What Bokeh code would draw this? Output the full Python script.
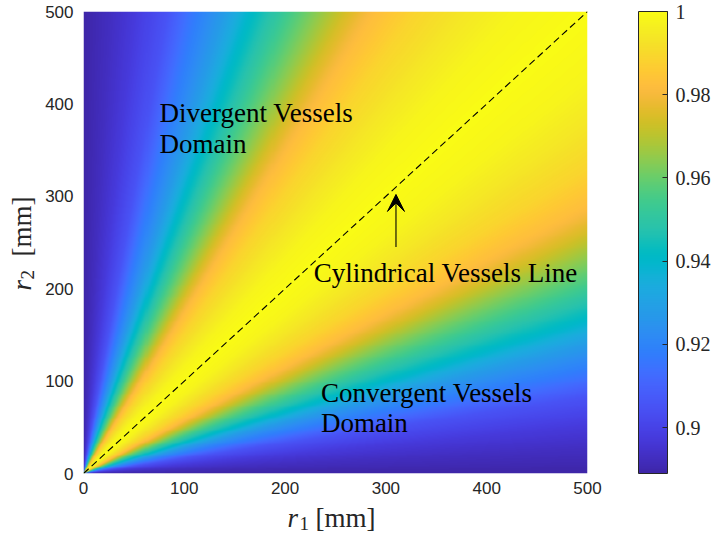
import numpy as np
from bokeh.plotting import figure
from bokeh.layouts import column, row
from bokeh.models import (LinearColorMapper, ColorBar, FixedTicker, NumeralTickFormatter,
                          Label, Arrow, VeeHead, Range1d)
from bokeh.embed import file_html
from bokeh.resources import INLINE

# ---- data -------------------------------------------------------------
r_max = 500                      # mm, extent of both radii
x_ticks = [0, 100, 200, 300, 400, 500]
y_ticks = [0, 100, 200, 300, 400, 500]

# efficiency level as a function of the radius ratio min(r1,r2)/max(r1,r2)
ratio_pts = [0.0, 0.05, 0.10, 0.165, 0.21, 0.28, 0.33, 0.41, 0.475, 0.52, 0.575, 0.66, 0.76, 0.86, 1.0]
level_pts = [0.889, 0.8925, 0.897, 0.905, 0.915, 0.928, 0.940, 0.955, 0.966, 0.974, 0.982, 0.989, 0.994, 0.998, 1.0]

cbar_low, cbar_high = 0.889, 1.0
cbar_ticks = [0.9, 0.92, 0.94, 0.96, 0.98, 1.0]

# cylindrical line r2 = r1 and the arrow pointing at it
diag_r = [0, 500]
arrow_x = 310
arrow_y0, arrow_y1 = 245, 302

# ---- parula colour map ------------------------------------------------
PARULA = [
    (0.2422, 0.1504, 0.6603), (0.2504, 0.1650, 0.7076), (0.2578, 0.1818, 0.7511), (0.2647, 0.1978, 0.7952),
    (0.2706, 0.2147, 0.8364), (0.2751, 0.2342, 0.8710), (0.2783, 0.2559, 0.8991), (0.2803, 0.2782, 0.9221),
    (0.2813, 0.3006, 0.9414), (0.2810, 0.3228, 0.9579), (0.2795, 0.3447, 0.9717), (0.2760, 0.3667, 0.9829),
    (0.2699, 0.3892, 0.9906), (0.2602, 0.4123, 0.9952), (0.2440, 0.4358, 0.9988), (0.2206, 0.4603, 0.9973),
    (0.1963, 0.4847, 0.9892), (0.1834, 0.5074, 0.9798), (0.1786, 0.5289, 0.9682), (0.1764, 0.5499, 0.9520),
    (0.1687, 0.5703, 0.9359), (0.1540, 0.5902, 0.9218), (0.1460, 0.6091, 0.9079), (0.1380, 0.6276, 0.8973),
    (0.1248, 0.6459, 0.8883), (0.1113, 0.6635, 0.8763), (0.0952, 0.6798, 0.8598), (0.0689, 0.6948, 0.8394),
    (0.0297, 0.7082, 0.8163), (0.0036, 0.7203, 0.7917), (0.0067, 0.7312, 0.7660), (0.0433, 0.7411, 0.7394),
    (0.0964, 0.7500, 0.7120), (0.1408, 0.7584, 0.6842), (0.1717, 0.7670, 0.6554), (0.1938, 0.7758, 0.6251),
    (0.2161, 0.7843, 0.5923), (0.2470, 0.7918, 0.5567), (0.2906, 0.7973, 0.5188), (0.3406, 0.8008, 0.4789),
    (0.3909, 0.8029, 0.4354), (0.4456, 0.8024, 0.3909), (0.5044, 0.7993, 0.3480), (0.5616, 0.7942, 0.3045),
    (0.6174, 0.7876, 0.2612), (0.6720, 0.7793, 0.2227), (0.7242, 0.7698, 0.1910), (0.7738, 0.7598, 0.1646),
    (0.8203, 0.7498, 0.1535), (0.8634, 0.7406, 0.1596), (0.9035, 0.7330, 0.1774), (0.9393, 0.7288, 0.2100),
    (0.9728, 0.7298, 0.2394), (0.9956, 0.7434, 0.2371), (0.9970, 0.7659, 0.2199), (0.9952, 0.7893, 0.2028),
    (0.9892, 0.8136, 0.1885), (0.9786, 0.8386, 0.1766), (0.9676, 0.8639, 0.1643), (0.9610, 0.8890, 0.1537),
    (0.9597, 0.9135, 0.1423), (0.9628, 0.9373, 0.1265), (0.9691, 0.9606, 0.1064), (0.9769, 0.9839, 0.0805),
]


def smooth_palette(anchors, n=256):
    a = np.array(anchors)
    s = np.linspace(0, 1, len(a))
    t = np.linspace(0, 1, n)
    rgb = np.stack([np.interp(t, s, a[:, k]) for k in range(3)], axis=1)
    return ["#%02x%02x%02x" % tuple(int(round(c * 255)) for c in rgb_row) for rgb_row in rgb]


palette = smooth_palette(PARULA)
mapper = LinearColorMapper(palette=palette, low=cbar_low, high=cbar_high)

# ---- field on the (r1, r2) grid --------------------------------------
n = 500
centres = (np.arange(n) + 0.5) * r_max / n
R1, R2 = np.meshgrid(centres, centres)
ratio = np.minimum(R1, R2) / np.maximum(R1, R2)
field = np.interp(ratio, ratio_pts, level_pts).astype(np.float32)

serif = "Liberation Serif"
ink = "#262626"

# ---- main plot -------------------------------------------------------
p = figure(width=671, height=500, x_range=Range1d(0, r_max), y_range=Range1d(0, r_max),
           output_backend="svg", toolbar_location=None,
           min_border_left=41, min_border_right=125, min_border_top=11, min_border_bottom=27)
p.outline_line_color = None
p.grid.visible = False

p.image(image=[field], x=0, y=0, dw=r_max, dh=r_max, color_mapper=mapper)

p.line(diag_r, diag_r, line_color="black", line_width=1.1, line_dash="7 4")

p.add_layout(Arrow(end=VeeHead(size=17, fill_color="black", line_color="black", line_width=1),
                   x_start=arrow_x, y_start=arrow_y0, x_end=arrow_x, y_end=arrow_y1,
                   line_color="black", line_width=1.1))

for txt, x, y in [("Divergent Vessels", 75.5, 390.5), ("Domain", 75.5, 357.0),
                  ("Cylindrical Vessels Line", 228.5, 217.5),
                  ("Convergent Vessels", 235.5, 86.9), ("Domain", 235.5, 54.3)]:
    p.add_layout(Label(x=x, y=y, text=txt, text_font=serif, text_font_size="27px",
                       text_color="black", text_baseline="alphabetic", text_align="left"))

# axes: tick labels only
for ax, ticks in ((p.xaxis[0], x_ticks), (p.yaxis[0], y_ticks)):
    ax.ticker = FixedTicker(ticks=ticks)
    ax.axis_line_color = None
    ax.major_tick_line_color = None
    ax.minor_tick_line_color = None
    ax.major_tick_in = 0
    ax.major_tick_out = 0
    ax.major_label_text_font = "Liberation Sans"
    ax.major_label_text_font_size = "17px"
    ax.major_label_text_color = ink
p.xaxis.major_label_standoff = 8
p.yaxis.major_label_standoff = 10

cb = ColorBar(color_mapper=mapper, width=29, height=462, location=(51, 0), padding=0, margin=0,
              ticker=FixedTicker(ticks=cbar_ticks), formatter=NumeralTickFormatter(format="0.[00]"),
              major_label_text_font=serif, major_label_text_font_size="20px",
              major_label_text_color=ink, label_standoff=8,
              major_tick_in=5, major_tick_out=0, major_tick_line_color=ink,
              minor_tick_line_color=None, bar_line_color=ink, bar_line_width=1,
              border_line_color=None, background_fill_color=None)
p.add_layout(cb, "right")


# ---- axis titles: italic symbol, subscript index, upright unit ---------
def title_strip(w, h):
    f = figure(width=w, height=h, x_range=Range1d(0, 1), y_range=Range1d(0, 1),
               output_backend="svg", toolbar_location=None, min_border=0,
               x_axis_location=None, y_axis_location=None)
    f.outline_line_color = None
    f.grid.visible = False
    return f


title_size, sub_size = "27px", "19px"

left = title_strip(42, 500)
for txt, sx, sy, size, style in [("r", 21, 183, title_size, "italic"),
                                 ("2", 27, 194, sub_size, "normal"),
                                 ("[mm]", 21, 217, title_size, "normal")]:
    left.add_layout(Label(x=sx, y=sy, x_units="screen", y_units="screen", text=txt, angle=np.pi / 2,
                          text_font=serif, text_font_style=style, text_font_size=size,
                          text_color=ink, text_baseline="alphabetic"))

bottom = title_strip(713, 39)
for txt, sx, sy, size, style in [("r", 287, 22, title_size, "italic"),
                                 ("1", 299, 16, sub_size, "normal"),
                                 ("[mm]", 315, 22, title_size, "normal")]:
    bottom.add_layout(Label(x=sx, y=sy, x_units="screen", y_units="screen", text=txt,
                            text_font=serif, text_font_style=style, text_font_size=size,
                            text_color=ink, text_baseline="alphabetic"))

page = column(row(left, p), bottom)
open("out.html", "w").write(file_html(page, INLINE))
